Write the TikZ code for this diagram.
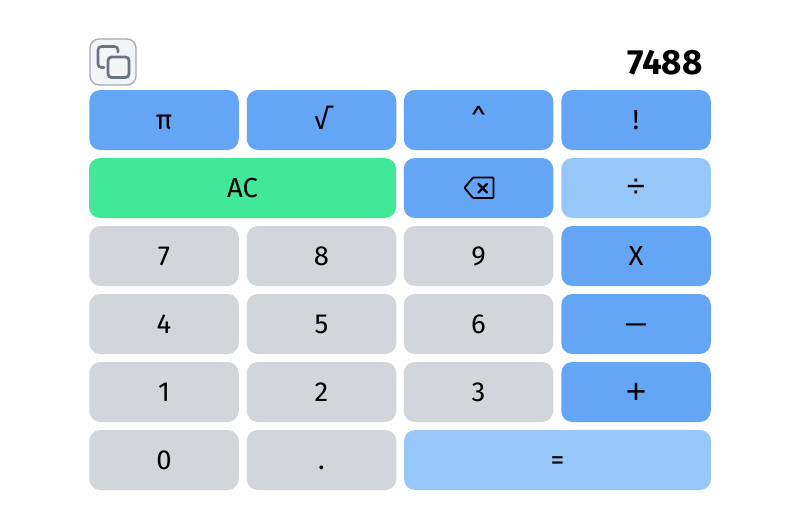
\documentclass[tikz,border=0pt]{standalone}
\usepackage{fontspec}
\setmainfont{Fira Sans}
\newfontfamily\symfont{Liberation Sans}
\definecolor{bluekey}{HTML}{64A5F5}
\definecolor{lightkey}{HTML}{97C6F8}
\definecolor{greenkey}{HTML}{41E89A}
\definecolor{graykey}{HTML}{D2D5D9}
\definecolor{iconfill}{HTML}{F3F4F6}
\definecolor{iconedge}{HTML}{A3A8B0}
\definecolor{iconink}{HTML}{6B7280}
\tikzset{
  keybase/.style={rectangle,rounded corners=11pt,inner sep=0pt,minimum height=60pt,text=black,font=\fontsize{27.5}{30}\selectfont,text height=19pt,text depth=0pt},
  wide/.style={minimum width=149.5pt},
  double/.style={minimum width=307pt},
  bluek/.style={keybase,wide,fill=bluekey},
  lightk/.style={keybase,fill=lightkey},
  greenk/.style={keybase,double,fill=greenkey},
  grayk/.style={keybase,wide,fill=graykey},
  inkline/.style={line width=1.8pt,line join=round,line cap=round}
}
\begin{document}
\begin{tikzpicture}[x=1pt,y=-1pt]
\useasboundingbox[fill=white] (0,0) rectangle (812,530);
% copy button
\node[rectangle,rounded corners=9pt,minimum width=46pt,minimum height=46pt,inner sep=0pt,fill=iconfill,draw=iconedge,line width=1.3pt] (copy) at (113,62) {};
\draw[iconink,line width=2.8pt,rounded corners=3.5pt] (108,57) rectangle (129,77.5);
\draw[iconink,line width=2.6pt,rounded corners=3.5pt,line cap=round] (104,67.5) -- (98,67.5) -- (98,46.5) -- (118,46.5) -- (118,52);
% display
\node[anchor=east,inner sep=0pt,font=\fontsize{35}{38}\selectfont\bfseries,text height=24.5pt,text depth=0pt] (display) at (702.8,62) {7488};
% row 1
\node[bluek] (pi) at (164,120) {π};
\node[bluek] (root) at (321.5,120) {√};
\node[bluek] (pow) at (478.5,120) {\^{}};
\node[bluek] (fact) at (636,120) {!};
% row 2
\node[greenk] (ac) at (242.5,188) {AC};
\node[bluek] (back) at (478.5,188) {};
\draw[inkline,rounded corners=1pt] (473,177.5) -- (493.5,177.5) -- (493.5,198) -- (473,198) -- (464.5,187.8) -- cycle;
\draw[inkline,line width=2.2pt] (478.5,184) -- (487,192.5) (487,184) -- (478.5,192.5);
\node[lightk,wide,font=\fontsize{33}{34}\selectfont\symfont] (div) at (636,188) {÷};
% row 3
\node[grayk] (seven) at (164,256) {7};
\node[grayk] (eight) at (321.5,256) {8};
\node[grayk] (nine) at (478.5,256) {9};
\node[bluek] (mul) at (636,256) {X};
% row 4
\node[grayk] (four) at (164,324) {4};
\node[grayk] (five) at (321.5,324) {5};
\node[grayk] (six) at (478.5,324) {6};
\node[bluek] (minus) at (636,324) {—};
% row 5
\node[grayk] (one) at (164,392) {1};
\node[grayk] (two) at (321.5,392) {2};
\node[grayk] (three) at (478.5,392) {3};
\node[bluek,font=\fontsize{35}{36}\selectfont\symfont,text height=23pt] (plus) at (636,392) {+};
% row 6
\node[grayk] (zero) at (164,460) {0};
\node[grayk] (dot) at (321.5,460) {.};
\node[lightk,double] (equals) at (557.5,460) {=};
\end{tikzpicture}
\end{document}
